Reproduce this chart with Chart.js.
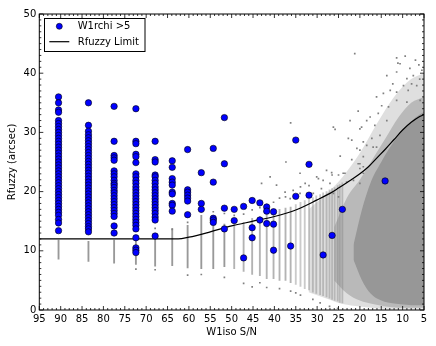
<!DOCTYPE html>
<html lang="en">
<head>
<meta charset="UTF-8">
<title>Rfuzzy vs W1iso S/N</title>
<script src="https://cdn.jsdelivr.net/npm/chart.js@4.4.0/dist/chart.umd.min.js"></script>
<style>
  html, body { margin: 0; padding: 0; background: #fff; }
  canvas { display: block; }
</style>
</head>
<body>
<canvas id="myChart" width="436" height="346"></canvas>
<script>
// blue points (W1rchi > 5): one S/N column each, with its Rfuzzy values
const blueSN = [90.5, 83.5, 77.5, 72.4, 67.9, 63.9, 60.3, 57.1, 54.3, 51.7, 49.4, 47.2, 45.2, 43.4, 41.8, 40.2, 36.2, 35.0, 31.9, 28.6, 26.5, 24.1, 14.1];
const blueR = [
  [36.0,35.0,33.8,33.4,32.0,31.5,31.0,30.5,30.0,29.5,29.0,28.5,28.0,27.5,27.0,26.5,26.0,25.5,25.0,24.5,24.0,23.5,23.0,22.5,22.0,21.5,21.0,20.5,20.0,19.5,19.0,18.5,18.0,17.5,17.0,16.5,16.0,15.3,14.7,13.4],
  [35.0,31.2,30.2,29.6,29.1,28.6,28.1,27.6,27.1,26.6,26.1,25.6,25.1,24.6,24.1,23.6,23.1,22.6,22.1,21.6,21.1,20.6,20.1,19.6,19.1,18.6,18.1,17.6,17.1,16.6,16.1,15.6,15.1,14.6,14.1,13.7,13.2],
  [34.4,28.5,26.1,25.7,25.3,23.5,23.0,22.5,21.9,21.4,21.1,20.7,20.2,19.8,19.3,18.8,18.3,17.8,17.3,16.8,16.3,15.8,14.2,13.0],
  [34.0,28.5,28.1,26.3,25.9,24.9,23.0,22.5,21.9,21.4,20.8,20.3,19.8,19.3,18.8,18.3,17.8,17.3,16.8,16.3,15.8,15.3,14.8,14.3,13.7,12.2,10.5,10.1,9.7],
  [28.5,25.4,25.0,22.8,22.5,21.9,21.4,20.8,20.3,19.8,19.3,18.8,18.3,17.8,17.3,16.8,16.3,15.7,15.2,12.5],
  [25.2,24.1,22.2,21.6,21.1,19.9,19.6,18.0,17.7,16.7],
  [27.1,20.3,19.9,19.4,18.9,18.4,16.1],
  [23.2,18.0,17.0],
  [27.3,21.6,15.5,15.2,14.8],
  [32.5,24.7,17.2,13.7],
  [17.0,15.1],
  [17.5,8.8],
  [18.5,13.9,12.2],
  [18.1,15.2],
  [17.4,16.7,14.6],
  [16.6,14.5,10.1],
  [10.8],
  [28.7,19.2],
  [24.6,19.4],
  [9.3],
  [12.6],
  [17.0],
  [21.8]
];

// Rfuzzy limit curve
const limitSN = [95, 62.5, 60, 55, 50, 45, 40, 35, 30, 27, 25, 22, 20, 18, 16, 14, 12, 10, 8, 6, 5];
const limitR  = [12, 12, 12.3, 13.2, 14.2, 15.0, 15.8, 16.9, 18.6, 19.7, 20.6, 22.0, 23.0, 24.2, 25.7, 27.2, 28.8, 30.4, 31.7, 32.7, 33.0];

// gray sources: dense S/N columns (low / high end of each stack)
const graySN = [90.5, 83.5, 77.5, 72.4, 67.9, 63.9, 60.3, 57.1, 54.3, 51.7, 49.4, 47.2, 45.2, 43.4, 41.8, 40.2, 38.8, 37.4, 36.2, 35.0, 33.9, 32.9, 31.9, 31.0, 30.2, 29.3, 28.6, 27.8, 27.1, 26.5, 25.9, 25.2, 24.7, 24.1];
const grayLo = [8.6, 8.2, 7.9, 7.7, 7.4, 7.5, 7.1, 7.0, 7.0, 7.3, 7.0, 6.5, 6.0, 5.8, 5.3, 5.3, 5.0, 5.0, 4.6, 4.3, 4.0, 3.6, 3.4, 3.0, 2.8, 2.6, 2.4, 2.2, 2.0, 1.8, 1.6, 1.5, 1.3, 1.2];
const grayHi = [11.8, 11.6, 11.8, 11.8, 12.2, 13.8, 14.3, 16.0, 15.5, 14.5, 14.8, 14.8, 15.5, 15.8, 16.2, 16.6, 17.0, 17.2, 17.4, 17.8, 18.2, 18.5, 18.8, 19.0, 19.3, 19.5, 19.8, 20.0, 20.3, 20.5, 20.7, 21.0, 21.2, 21.5];

// low S/N cloud, three density layers (top / bottom edges)
const outerSN  = [32, 28, 24, 20, 16, 12, 8, 5];
const outerTop = [17, 19.5, 22.5, 26.5, 31.5, 36, 39, 40];
const outerBot = [3, 2, 1, 0.6, 0.3, 0.2, 0.2, 0.2];
const midSN  = [26, 23, 20, 17, 14, 11, 8, 5];
const midTop = [14, 19, 22, 25.5, 29, 32.5, 35, 36];
const midBot = [5, 2.8, 1.6, 1, 0.6, 0.4, 0.4, 0.4];
const coreSN  = [21.5, 19.5, 17.5, 15, 12, 9, 7, 5];
const coreTop = [11, 17, 21.5, 25, 28.5, 31, 32.5, 33.5];
const coreBot = [8.5, 5, 2.8, 1.6, 1.1, 0.9, 0.8, 0.8];

// isolated gray sources [S/N, Rfuzzy]
const grayPts = [
  [21.2,43.3],[11.4,42.6],[9.4,42.9],[10.6,41.6],[6.2,41.4],[11.1,41.7],[13.7,39.6],[11.4,40.2],[7.5,39.6],[9.0,39.1],
  [7.9,38.2],[9.8,37.9],[12.3,38.2],[8.7,37.1],[12.9,37.1],[6.7,37.9],[11.4,36.8],[14.5,36.6],[16.1,36.0],[14.9,34.5],
  [13.3,34.3],[11.4,35.4],[9.0,35.1],[5.9,35.4],[20.4,33.6],[17.6,32.6],[15.7,33.2],[18.4,32.0],[22.3,32.0],[26.2,30.9],
  [25.8,30.5],[19.6,30.9],[16.5,31.2],[13.7,32.0],[22.7,29.0],[21.9,28.7],[19.2,28.4],[17.2,29.0],[15.3,29.5],[20.0,30.6],
  [24.6,26.0],[20.0,27.0],[18.4,27.8],[21.9,25.4],[20.0,24.7],[16.1,27.5],[16.9,27.5],[20.7,27.3],[19.2,25.9],[23.5,23.1],
  [20.0,23.9],[19.2,23.1],[26.6,23.2],[37.3,25.0],[36.2,31.6],[30.1,22.5],[34.0,23.1],[32.8,21.4],[29.7,22.2],[27.8,23.6],
  [27.0,21.4],[25.0,22.8],[23.9,23.1],[23.1,21.6],[21.5,21.9],[20.0,21.4],[19.2,24.2],[20.4,24.7],[41.0,22.5],[39.5,21.1],
  [43.0,21.4],[37.5,19.9],[35.6,20.2],[36.3,18.8],[34.0,19.7],[30.9,19.7],[29.0,20.5],[26.2,19.7],[25.0,19.1],[5.5,40.5],
  [7.0,42.2],[8.3,40.8],[6.0,39.0],[29.3,1.2],[27.1,0.6],[25.2,0.3],[31.0,1.8],[33.9,2.5],[36.2,3.2],[45.2,3.9],
  [47.2,4.5],[43.4,4.6],[51.7,5.5],[60.3,5.9],[57.1,6.0],[67.9,6.8],[67.9,13.8],[63.9,13.6],[54.3,16.6],[51.7,16.3],
  [57.1,16.6],[49.4,16.0],[47.2,16.2],[45.2,16.9],[43.4,17.3],[41.8,17.8],[40.2,18.2],[38.8,18.9],[37.4,19.1],[33.9,20.8],
  [31.9,21.0],[28.6,21.9],[26.5,22.8],[72.4,6.9],[60.3,14.8],[41.8,3.8],[38.8,3.6],[35.0,2.9]
];

const blueData = blueSN.flatMap((s, i) => blueR[i].map(r => ({x: s, y: r})));
const limitData = limitSN.map((s, i) => ({x: s, y: limitR[i]}));
const colData = graySN.map((s, i) => ({x: s, y: [grayLo[i], grayHi[i]]}));
const pair = (xs, ys) => xs.map((s, i) => ({x: s, y: ys[i]}));

const FONT = 'DejaVu Sans';

// one filled band between a top edge and a bottom edge
function band(label, xs, top, bot, color, order) {
  return [
    { type: 'line', label: label, data: pair(xs, top), fill: '+1', backgroundColor: color,
      borderColor: 'transparent', pointRadius: 0, cubicInterpolationMode: 'monotone', order: order },
    { type: 'line', label: label + ' bottom', data: pair(xs, bot), fill: false,
      borderColor: 'transparent', pointRadius: 0, cubicInterpolationMode: 'monotone', order: order }
  ];
}

// frame with inward ticks + legend box, matplotlib style
const framePlugin = {
  id: 'frame',
  afterDraw(chart) {
    const c = chart.ctx, a = chart.chartArea;
    const xs = chart.scales.x, ys = chart.scales.y;
    c.save();
    c.strokeStyle = '#000';
    c.lineWidth = 1;
    c.strokeRect(a.left, a.top, a.right - a.left, a.bottom - a.top);
    c.lineWidth = 0.8;
    c.beginPath();
    for (let v = 5; v <= 95; v++) {
      const px = xs.getPixelForValue(v);
      const len = v % 5 === 0 ? 4 : 2;
      c.moveTo(px, a.bottom); c.lineTo(px, a.bottom - len);
      c.moveTo(px, a.top); c.lineTo(px, a.top + len);
    }
    for (let v = 0; v <= 50; v++) {
      const py = ys.getPixelForValue(v);
      const len = v % 10 === 0 ? 4 : 2;
      c.moveTo(a.left, py); c.lineTo(a.left + len, py);
      c.moveTo(a.right, py); c.lineTo(a.right - len, py);
    }
    c.stroke();

    // legend
    c.fillStyle = '#fff';
    c.fillRect(44.5, 18.5, 100.5, 33);
    c.strokeStyle = '#000';
    c.lineWidth = 1;
    c.strokeRect(44.5, 18.5, 100.5, 33);
    c.beginPath();
    c.arc(59.3, 26.3, 3, 0, Math.PI * 2);
    c.fillStyle = '#0000ff';
    c.fill();
    c.lineWidth = 0.6;
    c.stroke();
    c.beginPath();
    c.lineWidth = 1.2;
    c.moveTo(49.3, 41.7); c.lineTo(69.3, 41.7);
    c.stroke();
    c.fillStyle = '#000';
    c.font = '10px "' + FONT + '"';
    c.textBaseline = 'middle';
    c.fillText('W1rchi >5', 77.7, 26.5);
    c.fillText('Rfuzzy Limit', 77.7, 42);
    c.restore();
  }
};

const ctx = document.getElementById('myChart').getContext('2d');
const myChart = new Chart(ctx, {
  type: 'scatter',
  data: {
    datasets: [
      ...band('outer', outerSN, outerTop, outerBot, 'rgba(128,128,128,0.25)', 10),
      ...band('mid', midSN, midTop, midBot, 'rgba(128,128,128,0.4)', 9),
      ...band('core', coreSN, coreTop, coreBot, 'rgba(128,128,128,0.6)', 8),
      {
        type: 'bar', label: 'columns', data: colData,
        backgroundColor: c => {
          const s = c.raw ? c.raw.x : 0;
          return s > 50 ? 'rgba(128,128,128,0.8)' : s > 36 ? 'rgba(128,128,128,0.6)' : 'rgba(128,128,128,0.42)';
        },
        barThickness: 1.2, borderWidth: 0, order: 6
      },
      {
        label: 'gray', data: grayPts.map(p => ({x: p[0], y: p[1]})),
        pointStyle: 'rect', pointRadius: 1.2, backgroundColor: '#808080', borderWidth: 0, order: 5
      },
      {
        type: 'line', label: 'Rfuzzy Limit', data: limitData,
        borderColor: '#000', borderWidth: 1.2, pointRadius: 0, fill: false,
        cubicInterpolationMode: 'monotone', order: 2
      },
      {
        label: 'W1rchi >5', data: blueData,
        pointRadius: 3.2, backgroundColor: '#0000ff', borderColor: '#000', borderWidth: 0.6, order: 1
      }
    ]
  },
  options: {
    responsive: false,
    animation: false,
    layout: { padding: { top: 14, right: 12, left: 0, bottom: 0 } },
    plugins: { legend: { display: false }, tooltip: { enabled: false } },
    scales: {
      x: {
        type: 'linear', min: 5, max: 95, reverse: true, offset: false,
        afterFit: s => { s.height = 36; },
        grid: { display: false, drawTicks: false, offset: false },
        border: { display: false },
        ticks: { stepSize: 5, autoSkip: false, maxRotation: 0, padding: 3, color: '#000', font: { family: FONT, size: 10 } },
        title: { display: true, text: 'W1iso S/N', color: '#000', font: { family: FONT, size: 10 }, padding: { top: 0, bottom: 7.5 } }
      },
      y: {
        min: 0, max: 50,
        afterFit: s => { s.width = 39.3; },
        grid: { display: false, drawTicks: false },
        border: { display: false },
        ticks: { stepSize: 10, padding: 3, color: '#000', font: { family: FONT, size: 10 } },
        title: { display: true, text: 'Rfuzzy (arcsec)', color: '#000', font: { family: FONT, size: 10 }, padding: { top: 6, bottom: 0 } }
      }
    }
  },
  plugins: [framePlugin]
});
</script>
</body>
</html>
